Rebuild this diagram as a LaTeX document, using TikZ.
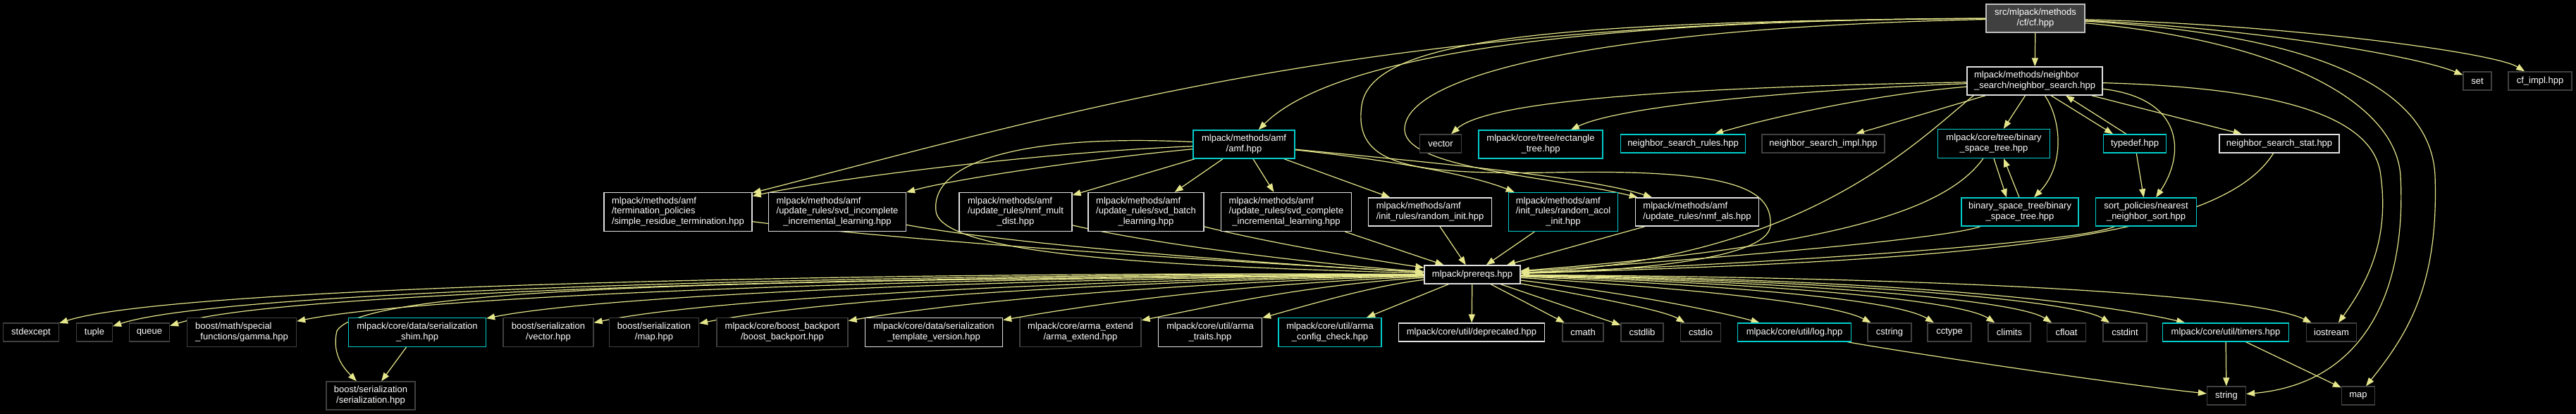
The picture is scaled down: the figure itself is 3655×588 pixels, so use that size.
\documentclass[tikz,border=0pt]{standalone}
\usepackage{fontspec}
\setmainfont{Liberation Sans}
\usetikzlibrary{arrows.meta}
\definecolor{edgec}{RGB}{230,230,140}
\definecolor{cyanb}{RGB}{0,205,205}
\definecolor{darkb}{RGB}{64,64,64}
\definecolor{whiteb}{RGB}{225,225,225}
\definecolor{cffill}{RGB}{64,64,64}
\definecolor{cfborder}{RGB}{191,191,191}
\newcommand{\lbtwo}[2]{\begin{tabular}{@{}l@{}}#1\\\multicolumn{1}{@{}c@{}}{#2}\end{tabular}}
\newcommand{\lbthree}[3]{\begin{tabular}{@{}l@{}}#1\\#2\\\multicolumn{1}{@{}c@{}}{#3}\end{tabular}}
\newcommand{\nfont}{\fontsize{13}{14.5}\selectfont}
\pgfdeclarelayer{bg}
\pgfdeclarelayer{edges}
\pgfsetlayers{bg,edges,main}
\tikzset{
  nb/.style={draw, line width=1.3pt, fill=black, text=white, font=\nfont, inner xsep=3pt, inner ysep=1pt, minimum height=26pt},
  wb/.style={nb, draw=whiteb},
  cb/.style={nb, draw=cyanb},
  gb/.style={nb, draw=darkb},
  edg/.style={draw=edgec, line width=1.2pt, -{Triangle[length=12pt,width=9pt]}},
}
\begin{document}
\begin{tikzpicture}[x=1pt,y=-1pt]
\begin{pgfonlayer}{bg}
\fill[black] (0,0) rectangle (3655,588);
\end{pgfonlayer}
\useasboundingbox (0,0) rectangle (3655,588);
% ---- nodes
\node[nb, fill=cffill, draw=cfborder, minimum width=140pt, minimum height=40pt] (cf) at (2888,26) {\lbtwo{src/mlpack/methods}{/cf/cf.hpp}};
\node[wb, minimum width=192pt, minimum height=40pt] (ns) at (2887,115) {\lbtwo{mlpack/methods/neighbor}{\_search/neighbor\_search.hpp}};
\node[gb, minimum width=40pt] (set) at (3515,115) {set};
\node[gb, minimum width=90pt] (cfimpl) at (3604,115) {cf\_impl.hpp};
\node[cb, minimum width=144pt, minimum height=40pt] (amf) at (1765,205) {\lbtwo{mlpack/methods/amf}{/amf.hpp}};
\node[gb, minimum width=59pt] (vector) at (2044,204) {vector};
\node[cb, minimum width=176pt, minimum height=40pt] (rect) at (2186,205) {\lbtwo{mlpack/core/tree/rectangle}{\_tree.hpp}};
\node[cb, minimum width=177pt] (nsrules) at (2388,204) {neighbor\_search\_rules.hpp};
\node[gb, minimum width=174pt] (nsimpl) at (2587,204) {neighbor\_search\_impl.hpp};
\node[cb, minimum width=159pt, minimum height=41pt] (bst1) at (2829,204) {\lbtwo{mlpack/core/tree/binary}{\_space\_tree.hpp}};
\node[cb, minimum width=89pt] (typedef) at (3029,204) {typedef.hpp};
\node[wb, minimum width=170pt] (nsstat) at (3234,204) {neighbor\_search\_stat.hpp};
\node[wb, minimum width=210pt, minimum height=55pt] (simpres) at (962,301) {\lbthree{mlpack/methods/amf}{/termination\_policies}{/simple\_residue\_termination.hpp}};
\node[wb, minimum width=195pt, minimum height=55pt] (svdinc) at (1188,301) {\lbthree{mlpack/methods/amf}{/update\_rules/svd\_incomplete}{\_incremental\_learning.hpp}};
\node[wb, minimum width=160pt, minimum height=55pt] (nmfmult) at (1441,301) {\lbthree{mlpack/methods/amf}{/update\_rules/nmf\_mult}{\_dist.hpp}};
\node[wb, minimum width=164pt, minimum height=55pt] (svdbatch) at (1626,301) {\lbthree{mlpack/methods/amf}{/update\_rules/svd\_batch}{\_learning.hpp}};
\node[wb, minimum width=185pt, minimum height=55pt] (svdcomp) at (1825,301) {\lbthree{mlpack/methods/amf}{/update\_rules/svd\_complete}{\_incremental\_learning.hpp}};
\node[wb, minimum width=175pt, minimum height=40pt] (rinit) at (2029,301) {\lbtwo{mlpack/methods/amf}{/init\_rules/random\_init.hpp}};
\node[cb, minimum width=155pt, minimum height=55pt] (racol) at (2218,301) {\lbthree{mlpack/methods/amf}{/init\_rules/random\_acol}{\_init.hpp}};
\node[wb, minimum width=175pt, minimum height=40pt] (nmfals) at (2408,301) {\lbtwo{mlpack/methods/amf}{/update\_rules/nmf\_als.hpp}};
\node[cb, minimum width=166pt, minimum height=40pt] (bst2) at (2866,301) {\lbtwo{binary\_space\_tree/binary}{\_space\_tree.hpp}};
\node[cb, minimum width=143pt, minimum height=40pt] (sortp) at (3045,301) {\lbtwo{sort\_policies/nearest}{\_neighbor\_sort.hpp}};
\node[wb, minimum width=136pt] (prereqs) at (2089,390) {mlpack/prereqs.hpp};
\node[gb, minimum width=79pt] (stdexcept) at (44,472) {stdexcept};
\node[gb, minimum width=51pt] (tuple) at (134,472) {tuple};
\node[gb, minimum width=57pt] (queue) at (212,472) {queue};
\node[gb, minimum width=155pt, minimum height=41pt] (gamma) at (343,472) {\lbtwo{boost/math/special}{\_functions/gamma.hpp}};
\node[cb, minimum width=195pt, minimum height=41pt] (shim) at (592,472) {\lbtwo{mlpack/core/data/serialization}{\_shim.hpp}};
\node[gb, minimum width=128pt, minimum height=41pt] (bsvec) at (778,472) {\lbtwo{boost/serialization}{/vector.hpp}};
\node[gb, minimum width=127pt, minimum height=41pt] (bsmap) at (928,472) {\lbtwo{boost/serialization}{/map.hpp}};
\node[gb, minimum width=186pt, minimum height=41pt] (backport) at (1110,472) {\lbtwo{mlpack/core/boost\_backport}{/boost\_backport.hpp}};
\node[wb, minimum width=195pt, minimum height=41pt] (tmplver) at (1325,472) {\lbtwo{mlpack/core/data/serialization}{\_template\_version.hpp}};
\node[gb, minimum width=172pt, minimum height=41pt] (armaext) at (1533,472) {\lbtwo{mlpack/core/arma\_extend}{/arma\_extend.hpp}};
\node[wb, minimum width=147pt, minimum height=41pt] (armatr) at (1717,472) {\lbtwo{mlpack/core/util/arma}{\_traits.hpp}};
\node[cb, minimum width=146pt, minimum height=41pt] (armacfg) at (1887,472) {\lbtwo{mlpack/core/util/arma}{\_config\_check.hpp}};
\node[wb, minimum width=207pt] (deprec) at (2088,472) {mlpack/core/util/deprecated.hpp};
\node[gb, minimum width=58pt] (cmath) at (2246,472) {cmath};
\node[gb, minimum width=60pt] (cstdlib) at (2330,472) {cstdlib};
\node[gb, minimum width=57pt] (cstdio) at (2413,472) {cstdio};
\node[cb, minimum width=161pt] (log) at (2546,472) {mlpack/core/util/log.hpp};
\node[gb, minimum width=62pt] (cstring) at (2681,472) {cstring};
\node[gb, minimum width=62pt] (cctype) at (2766,472) {cctype};
\node[gb, minimum width=60pt] (climits) at (2851,472) {climits};
\node[gb, minimum width=55pt] (cfloat) at (2932,472) {cfloat};
\node[gb, minimum width=62pt] (cstdint) at (3015,472) {cstdint};
\node[cb, minimum width=179pt] (timers) at (3158,472) {mlpack/core/util/timers.hpp};
\node[gb, minimum width=71pt] (iostream) at (3308,472) {iostream};
\node[gb, minimum width=126pt, minimum height=40pt] (serial) at (526,562) {\lbtwo{boost/serialization}{/serialization.hpp}};
\node[gb, minimum width=55pt] (string) at (3159,562) {string};
\node[gb, minimum width=47pt] (map) at (3346,562) {map};
% ---- edges
\begin{pgfonlayer}{edges}
% cf.hpp
\draw[edg] (cf) -- (ns);
\draw[edg] (cf) .. controls (3200,40) and (3430,80) .. (set);
\draw[edg] (cf) .. controls (3250,35) and (3540,75) .. (cfimpl);
\draw[edg] (cf) .. controls (2300,28) and (1900,70) .. (amf);
\draw[edg] (cf) .. controls (1950,28) and (1550,150) .. (simpres);
\draw[edg] (cf) .. controls (2250,40) and (1990,110) .. (1993,185) .. controls (1996,240) and (2200,250) .. (nmfals);
\draw[edg] (cf) .. controls (2200,30) and (1945,55) .. (1932,150) .. controls (1920,235) and (2000,248) .. (2200,245) .. controls (2450,240) and (2515,265) .. (2512,320) .. controls (2510,370) and (2300,385) .. (prereqs);
\draw[edg] (cf) .. controls (3250,60) and (3400,150) .. (3406,250) .. controls (3415,420) and (3350,545) .. (string);
\draw[edg] (cf) .. controls (3300,50) and (3450,130) .. (3455,250) .. controls (3460,400) and (3420,470) .. (map);
% neighbor_search.hpp
\draw[edg] (ns) .. controls (3250,125) and (3370,170) .. (3378,250) .. controls (3390,340) and (3360,400) .. (iostream);
\draw[edg] (ns) .. controls (2500,122) and (2120,135) .. (vector);
\draw[edg] (ns) .. controls (2550,128) and (2300,150) .. (rect);
\draw[edg] (ns) .. controls (2650,135) and (2500,170) .. (nsrules);
\draw[edg] (ns) -- (nsimpl);
\draw[edg] (ns) -- (bst1);
\draw[edg] ([xshift=23pt]ns.south) -- ([xshift=-31pt]typedef.north);
\draw[edg] ([xshift=-12pt]typedef.north) -- ([xshift=44pt]ns.south);
\draw[edg] (ns) -- (nsstat);
\draw[edg] (ns) .. controls (2925,170) and (2930,235) .. (bst2);
\draw[edg] (ns) .. controls (3100,140) and (3100,220) .. (sortp);
\draw[edg] ([xshift=10pt]ns.south west) .. controls (2720,200) and (2560,370) .. (prereqs);
% trees and policies
\draw[edg] (bst1.south) -- ([xshift=-19pt]bst2.north);
\draw[edg] ([xshift=-1pt]bst2.north) -- ([xshift=14pt]bst1.south);
\draw[edg] (bst1) .. controls (2760,300) and (2600,350) .. (prereqs);
\draw[edg] (bst2) .. controls (2760,340) and (2400,370) .. (prereqs);
\draw[edg] (sortp) .. controls (2950,345) and (2500,375) .. (prereqs);
\draw[edg] (nsstat) .. controls (3150,340) and (2800,370) .. (prereqs);
\draw[edg] (typedef) -- (sortp);
% amf.hpp
\draw[edg] (amf) .. controls (1500,215) and (1200,250) .. (simpres);
\draw[edg] (amf) .. controls (1550,225) and (1350,255) .. (svdinc);
\draw[edg] (amf) -- (nmfmult);
\draw[edg] (amf) -- (svdbatch);
\draw[edg] (amf) -- (svdcomp);
\draw[edg] (amf) -- (rinit);
\draw[edg] (amf) .. controls (1950,225) and (2080,245) .. (racol);
\draw[edg] (amf) .. controls (2000,228) and (2250,250) .. (nmfals);
\draw[edg] (amf) .. controls (1450,190) and (1320,230) .. (1328,300) .. controls (1336,370) and (1750,380) .. (prereqs);
% amf children -> prereqs
\draw[edg] (simpres) .. controls (1300,345) and (1800,375) .. (prereqs);
\draw[edg] (svdinc) .. controls (1450,350) and (1850,378) .. (prereqs);
\draw[edg] (nmfmult) .. controls (1650,350) and (1900,378) .. (prereqs);
\draw[edg] (svdbatch) .. controls (1800,345) and (1950,370) .. (prereqs);
\draw[edg] (svdcomp) -- (prereqs);
\draw[edg] (rinit) -- (prereqs);
\draw[edg] (racol) -- (prereqs);
\draw[edg] (nmfals) -- (prereqs);
% prereqs fan
\draw[edg] (prereqs) .. controls (1300,385) and (250,405) .. (stdexcept);
\draw[edg] (prereqs) .. controls (1300,388) and (320,410) .. (tuple);
\draw[edg] (prereqs) .. controls (1300,391) and (400,412) .. (queue);
\draw[edg] (prereqs) .. controls (1300,394) and (600,420) .. (gamma);
\draw[edg] (prereqs) .. controls (1200,398) and (520,400) .. (478,470) .. controls (470,505) and (490,525) .. (serial);
\draw[edg] (prereqs) .. controls (1400,396) and (850,420) .. (shim);
\draw[edg] (prereqs) .. controls (1500,398) and (1000,425) .. (bsvec);
\draw[edg] (prereqs) .. controls (1550,400) and (1150,428) .. (bsmap);
\draw[edg] (prereqs) .. controls (1650,402) and (1350,430) .. (backport);
\draw[edg] (prereqs) .. controls (1750,404) and (1550,432) .. (tmplver);
\draw[edg] (prereqs) .. controls (1850,405) and (1720,435) .. (armaext);
\draw[edg] (prereqs) .. controls (1950,405) and (1850,435) .. (armatr);
\draw[edg] (prereqs) -- (armacfg);
\draw[edg] (prereqs) -- (deprec);
\draw[edg] (prereqs) -- (cmath);
\draw[edg] (prereqs) -- (cstdlib);
\draw[edg] (prereqs) .. controls (2250,420) and (2360,440) .. (cstdio);
\draw[edg] (prereqs) .. controls (2300,415) and (2430,440) .. (log);
\draw[edg] (prereqs) .. controls (2400,410) and (2600,430) .. (cstring);
\draw[edg] (prereqs) .. controls (2450,405) and (2690,425) .. (cctype);
\draw[edg] (prereqs) .. controls (2500,402) and (2780,425) .. (climits);
\draw[edg] (prereqs) .. controls (2550,400) and (2860,425) .. (cfloat);
\draw[edg] (prereqs) .. controls (2600,398) and (2940,425) .. (cstdint);
\draw[edg] (prereqs) .. controls (2700,396) and (2980,430) .. (timers);
\draw[edg] (prereqs) .. controls (2800,394) and (3200,420) .. (iostream);
% leaves
\draw[edg] (shim) -- (serial);
\draw[edg] (log) .. controls (2700,500) and (3000,545) .. (string);
\draw[edg] (timers) -- (string);
\draw[edg] (timers) -- (map);
\end{pgfonlayer}
\end{tikzpicture}
\end{document}
